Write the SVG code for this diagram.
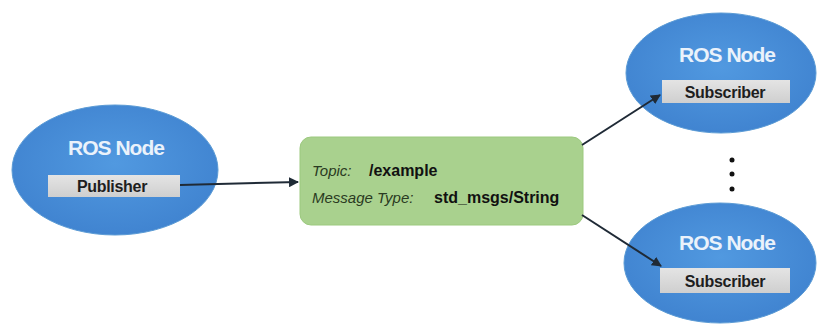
<svg xmlns="http://www.w3.org/2000/svg" width="817" height="326" viewBox="0 0 817 326">
<defs>
<radialGradient id="blue" cx="50%" cy="45%" r="60%">
<stop offset="0" stop-color="#5199e0"/>
<stop offset="1" stop-color="#3f82cf"/>
</radialGradient>
<linearGradient id="gray" x1="0" y1="0" x2="0" y2="1">
<stop offset="0" stop-color="#e4e4e4"/>
<stop offset="1" stop-color="#cfcfcf"/>
</linearGradient>
<marker id="ah" viewBox="0 0 10 10" refX="9" refY="5" markerWidth="5" markerHeight="5" orient="auto">
<path d="M0,0 L10,5 L0,10 z" fill="#1f2a36"/>
</marker>
</defs>
<style>
.ell{fill:url(#blue);stroke:#5b9bd5;stroke-width:1}
.title{font-family:"Liberation Sans",Arial,sans-serif;font-weight:bold;font-size:21px;letter-spacing:-1px;fill:#eaf2fb;text-anchor:middle}
.lbl{fill:url(#gray)}
.lbltxt{font-family:"Liberation Sans",Arial,sans-serif;font-weight:bold;font-size:16px;letter-spacing:-0.3px;fill:#1e1e1e;text-anchor:middle}
.topic{fill:#a9d18e;stroke:#9cc97f;stroke-width:1}
.it{font-family:"Liberation Sans",Arial,sans-serif;font-style:italic;font-size:15px;fill:#2a3a22}
.bd{font-family:"Liberation Sans",Arial,sans-serif;font-weight:bold;font-size:16px;fill:#111}
.conn{stroke:#1f2a36;stroke-width:2;fill:none;marker-end:url(#ah)}
</style>
<rect width="817" height="326" fill="#ffffff"/>
<g id="publisher-node">
<ellipse class="ell" cx="115" cy="170" rx="103" ry="65"/>
<text class="title" x="116" y="155">ROS Node</text>
<rect class="lbl" x="48" y="175" width="132" height="22"/>
<text class="lbltxt" x="112" y="192">Publisher</text>
</g>
<g id="topic">
<rect class="topic" x="300" y="137" width="283" height="88" rx="11" ry="11"/>
<text x="312" y="176"><tspan class="it">Topic:</tspan><tspan class="bd" x="369">/example</tspan></text>
<text x="312" y="203"><tspan class="it">Message Type:</tspan><tspan class="bd" x="434">std_msgs/String</tspan></text>
</g>
<g id="subscriber-node-1">
<ellipse class="ell" cx="721" cy="73" rx="95" ry="60"/>
<text class="title" x="727" y="62">ROS Node</text>
<rect class="lbl" x="662" y="80" width="128" height="23"/>
<text class="lbltxt" x="725" y="98">Subscriber</text>
</g>
<g id="ellipsis">
<circle cx="732" cy="160" r="2.5" fill="#111"/>
<circle cx="732" cy="174" r="2.5" fill="#111"/>
<circle cx="732" cy="189" r="2.5" fill="#111"/>
</g>
<g id="subscriber-node-2">
<ellipse class="ell" cx="720" cy="263" rx="96" ry="60"/>
<text class="title" x="727" y="250">ROS Node</text>
<rect class="lbl" x="660" y="268" width="130" height="25"/>
<text class="lbltxt" x="725" y="287">Subscriber</text>
</g>
<g id="connectors">
<line class="conn" x1="180" y1="185" x2="298" y2="182"/>
<line class="conn" x1="582" y1="145" x2="660" y2="95"/>
<line class="conn" x1="582" y1="215" x2="661" y2="266"/>
</g>
</svg>
